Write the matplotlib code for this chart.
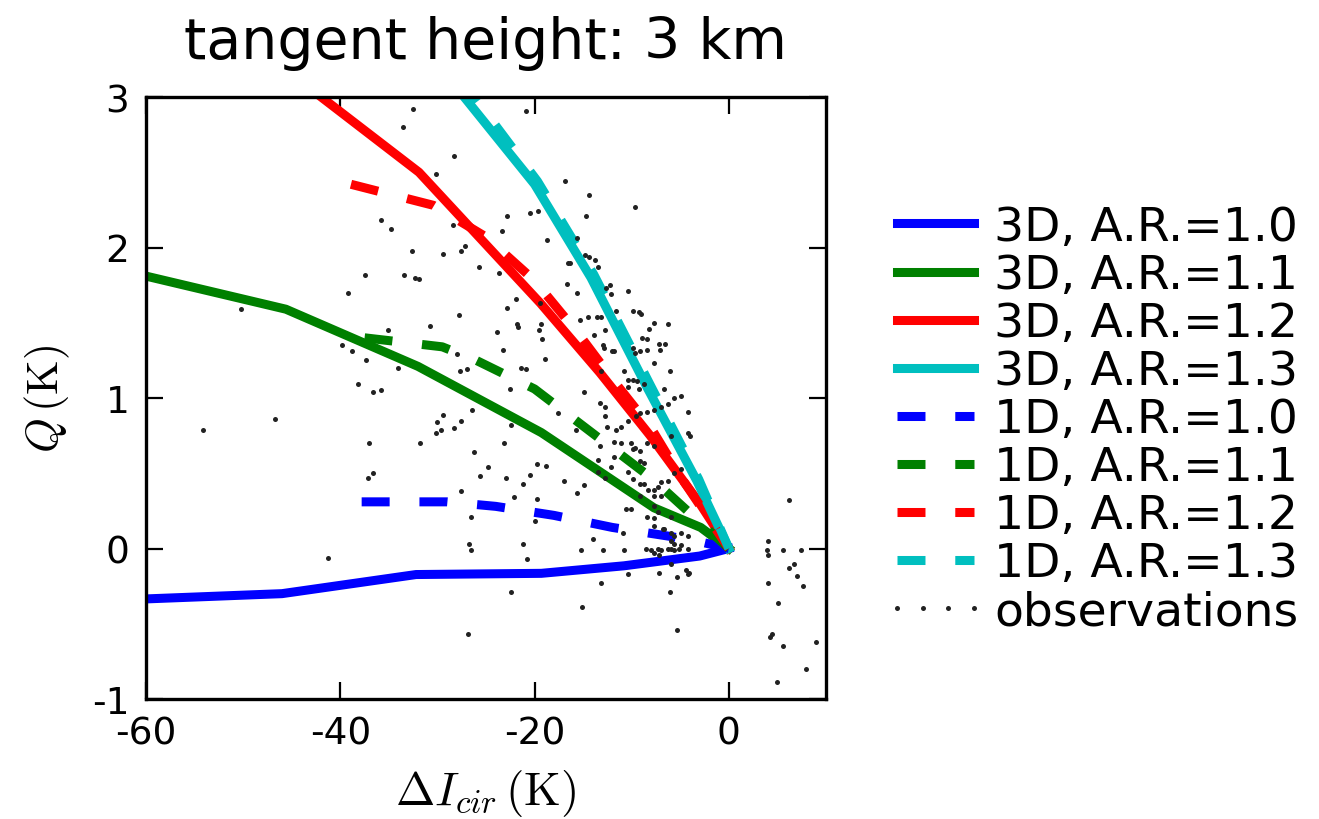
import matplotlib
matplotlib.use("Agg")
import matplotlib.pyplot as plt

plt.rcParams['font.family'] = ['DejaVu Sans']
plt.rcParams['mathtext.fontset'] = 'cm'
plt.rcParams['axes.unicode_minus'] = False

# ---- model curves (x: Delta I_cir [K], y: Q [K]) ----
x3d_10 = [-60, -46, -32.2, -19.3, -10.8, -3, 0]
y3d_10 = [-0.335, -0.30, -0.173, -0.165, -0.115, -0.05, 0]
x3d_11 = [-60, -45.6, -32, -19.3, -7.7, -2.9, 0]
y3d_11 = [1.81, 1.59, 1.21, 0.77, 0.27, 0.14, 0]
x3d_12 = [-46, -31.9, -19.4, -13.3, -8.1, -3, 0]
y3d_12 = [3.2, 2.5, 1.63, 1.17, 0.75, 0.30, 0]
x3d_13 = [-28.5, -20, -14.2, -8.5, -3.3, 0]
y3d_13 = [3.1, 2.42, 1.80, 1.08, 0.45, 0]

x1d_10 = [-37.8, -29, -24, -18, -12, -6, -3, 0]
y1d_10 = [0.31, 0.31, 0.28, 0.22, 0.14, 0.08, 0.045, 0]
x1d_11 = [-37.5, -29.5, -26, -20, -13.5, -8, -4.6, 0]
y1d_11 = [1.40, 1.34, 1.25, 1.06, 0.74, 0.47, 0.27, 0]
x1d_12 = [-38.9, -30.4, -25, -20, -15.4, -11.8, -8, -5, 0]
y1d_12 = [2.42, 2.28, 2.07, 1.78, 1.42, 1.11, 0.80, 0.48, 0]
x1d_13 = [-27.6, -19.7, -13.9, -8.2, -3.1, 0]
y1d_13 = [3.12, 2.44, 1.82, 1.10, 0.46, 0]

# ---- observations ----
obs_x = [-32.5, -33.5, -30.1, -35.8, -34.8, -32.6, -29.4, -37.5, -33.4, -32.3,
         -31.9, -39.2, -50.2, -30.8, -35.1, -39.8, -38.8, -37.4, -34.1, -38.2,
         -36.6, -35.8, -20.9, -28.3, -16.9, -14.4, -9.7, -22.8, -20.5, -19.6,
         -14.7, -28.4, -23.4, -18.7, -15.6, -27.6, -27.2, -25.7, -23.7, -16.6,
         -16.4, -14.8, -14.4, -13.8, -13.5, -16.7, -15.6, -12.6, -12.1, -12.2,
         -10.4, -27.8, -21.9, -22.8, -19.4, -19.3, -21.8, -21.7, -23.9, -19.5,
         -19.2, -15.3, -14.5, -13.6, -13.2, -13.9, -12.7, -11.6, -9.9, -9.3,
         -9.0, -7.7, -6.3, -8.2, -8.9, -8.4, -7.2, -6.6, -7.1, -13.0,
         -12.9, -12.0, -11.8, -9.9, -9.7, -9.1, -8.4, -7.7, -6.1, -28.0,
         -23.2, -18.9, -27.7, -27.0, -21.4, -20.9, -13.2, -10.8, -10.4, -9.9,
         -9.5, -10.4, -9.2, -8.7, -22.5, -14.9, -6.7, -54.1, -46.7, -37.0,
         -31.8, -30.0, -29.4, -30.1, -29.6, -37.1, -36.6, -41.3, -13.3, -12.8,
         -17.6, -26.4, -27.6, -28.3, -22.4, -12.8, -12.5, -11.6, -11.1, -10.4,
         -9.6, -9.1, -8.4, -7.7, -7.0, -6.3, -5.6, -4.9, -4.2, -4.2,
         -4.0, -23.1, -26.2, -15.7, -11.8, -11.1, -10.1, -9.9, -9.7, -9.1,
         -8.4, -7.7, -6.0, -13.3, -13.5, -11.8, -12.1, -9.1, -8.7, -19.7,
         -18.8, -24.8, -25.6, -22.9, -20.5, -21.2, -17.0, -14.9, -15.6, -13.5,
         -12.8, -10.4, -9.9, -9.1, -8.7, -8.3, -7.7, -7.3, -7.0, -6.3,
         -5.6, -4.9, -7.7, -7.0, -9.1, -10.6, -10.1, -7.7, -7.3, -6.0,
         -8.4, -7.7, -27.6, -22.1, -19.7, -26.5, -20.0, -7.7, -6.8, -6.0,
         -5.6, -4.9, -4.2, -6.0, -5.6, -4.9, -4.2, -6.7, -10.9, -14.0,
         -26.7, -26.5, -21.2, -20.8, -15.2, -13.0, -10.8, -8.5, -8.0, -7.7,
         -7.3, -7.0, -6.3, -6.0, -5.6, -5.1, -7.2, -6.0, -4.4, -4.1,
         -4.2, -7.2, -5.3, -10.4, -13.2, -22.4, -6.1, -15.1, -5.3, -26.9,
         6.2, 4.0, 3.9, 4.0, 5.6, 7.4, 6.7, 6.2, 7.0, 7.6,
         4.0, 5.1, 4.4, 4.2, 5.6, 9.0, 7.9, 5.0]
obs_y = [2.92, 2.80, 2.49, 2.18, 2.12, 1.98, 1.96, 1.82, 1.82, 1.80,
         1.79, 1.70, 1.59, 1.48, 1.45, 1.35, 1.31, 1.25, 1.20, 1.09,
         1.04, 1.05, 2.91, 2.61, 2.44, 2.35, 2.27, 2.21, 2.23, 2.24,
         2.21, 2.15, 2.11, 2.05, 2.06, 1.98, 2.01, 1.87, 1.83, 1.90,
         1.90, 1.95, 1.94, 1.92, 1.87, 1.76, 1.70, 1.73, 1.69, 1.75,
         1.71, 1.55, 1.66, 1.60, 1.63, 1.49, 1.49, 1.47, 1.44, 1.45,
         1.39, 1.52, 1.54, 1.54, 1.54, 1.42, 1.45, 1.58, 1.58, 1.57,
         1.56, 1.50, 1.49, 1.46, 1.40, 1.39, 1.36, 1.36, 1.32, 1.35,
         1.33, 1.31, 1.31, 1.33, 1.30, 1.31, 1.32, 1.23, 1.18, 1.29,
         1.32, 1.26, 1.18, 1.19, 1.20, 1.19, 1.18, 1.18, 1.12, 1.12,
         1.11, 1.07, 1.06, 1.09, 1.06, 1.04, 1.06, 0.79, 0.86, 0.70,
         0.70, 0.84, 0.89, 0.77, 0.79, 0.47, 0.50, -0.06, 0.97, 0.94,
         0.90, 0.92, 0.85, 0.80, 0.82, 0.88, 0.81, 0.79, 0.81, 0.85,
         0.88, 0.90, 0.91, 0.92, 0.94, 0.96, 1.00, 1.01, 0.91, 0.77,
         0.75, 0.70, 0.64, 0.79, 0.71, 0.70, 0.70, 0.66, 0.67, 0.65,
         0.70, 0.68, 0.75, 0.68, 0.59, 0.61, 0.54, 0.58, 0.57, 0.56,
         0.55, 0.54, 0.48, 0.47, 0.49, 0.43, 0.45, 0.42, 0.37, 0.51,
         0.47, 0.51, 0.46, 0.43, 0.43, 0.39, 0.39, 0.41, 0.44, 0.45,
         0.50, 0.53, 0.35, 0.35, 0.35, 0.26, 0.26, 0.28, 0.24, 0.21,
         0.21, 0.20, 0.38, 0.34, 0.33, 0.21, 0.18, 0.15, 0.13, 0.10,
         0.08, 0.10, 0.08, 0.05, 0.03, 0.02, 0.00, 0.13, 0.10, 0.06,
         0.03, -0.01, 0.03, -0.07, -0.01, -0.01, -0.01, 0.00, -0.01, -0.03,
         0.00, -0.01, 0.00, 0.00, -0.01, 0.00, -0.04, -0.10, -0.14, -0.16,
         -0.17, -0.16, -0.19, -0.17, -0.23, -0.29, -0.29, -0.39, -0.54, -0.57,
         0.32, 0.05, -0.01, -0.04, -0.01, -0.01, -0.10, -0.13, -0.18, -0.25,
         -0.23, -0.36, -0.57, -0.59, -0.65, -0.62, -0.80, -0.89]

labels_3d = ['3D, A.R.=1.0', '3D, A.R.=1.1', '3D, A.R.=1.2', '3D, A.R.=1.3']
labels_1d = ['1D, A.R.=1.0', '1D, A.R.=1.1', '1D, A.R.=1.2', '1D, A.R.=1.3']
colors = ['#0000ff', '#008000', '#ff0000', '#00bfbf']
x_ticks = [-60, -40, -20, 0]
y_ticks = [-1, 0, 1, 2, 3]

W, H = 1319, 820
fig = plt.figure(figsize=(W / 100, H / 100), dpi=100)
ax = fig.add_axes([146 / W, 120 / H, 680 / W, 602 / H])

lw = 6.5
curves3d = [(x3d_10, y3d_10), (x3d_11, y3d_11), (x3d_12, y3d_12), (x3d_13, y3d_13)]
curves1d = [(x1d_10, y1d_10), (x1d_11, y1d_11), (x1d_12, y1d_12), (x1d_13, y1d_13)]
for (xs, ys), c, lab in zip(curves3d, colors, labels_3d):
    ax.plot(xs, ys, '-', color=c, lw=lw, label=lab, solid_joinstyle='round')
for (xs, ys), c, lab in zip(curves1d, colors, labels_1d):
    ax.plot(xs, ys, color=c, lw=lw, linestyle=(0, (3.1, 3.3)), label=lab)
ax.plot(obs_x, obs_y, linestyle='none', marker='o', ms=3.6, mew=0,
        color='#222222', label='observations')

ax.set_xlim(-60, 10)
ax.set_ylim(-1, 3)
ax.set_xticks(x_ticks)
ax.set_yticks(y_ticks)
ax.tick_params(direction='in', length=12, width=1.6, top=True, right=True,
               labelsize=27)
ax.tick_params(axis='x', pad=12)
ax.tick_params(axis='y', pad=12)
for s in ax.spines.values():
    s.set_linewidth(2.4)

ax.set_xlabel(r'$\Delta I_{cir}\,(\mathrm{K})$', fontsize=34, labelpad=11)
ax.set_ylabel(r'$Q\,(\mathrm{K})$', fontsize=32, labelpad=14)
ax.set_title('tangent height: 3 km', fontsize=41, pad=28)

fig.legend(loc='upper left', bbox_to_anchor=(883 / W, 1 - 206 / H),
           frameon=False, fontsize=34, handlelength=2.23, handletextpad=0.13,
           labelspacing=0.065, borderpad=0, borderaxespad=0, numpoints=4)

fig.savefig('out.png', dpi=100)
